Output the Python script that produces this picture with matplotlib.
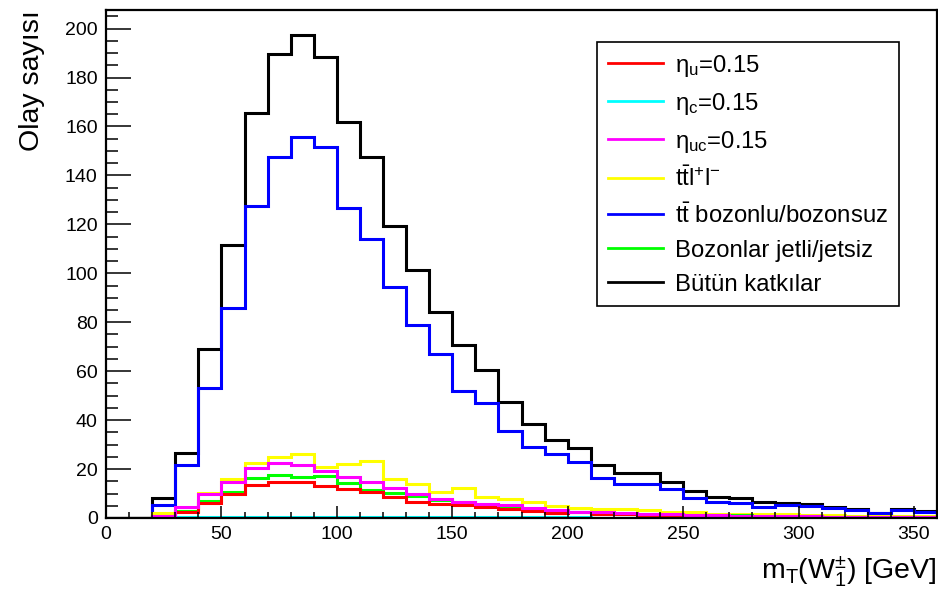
import numpy as np
import matplotlib
matplotlib.use("Agg")
import matplotlib.pyplot as plt
from matplotlib.lines import Line2D
from matplotlib.ticker import MultipleLocator

plt.rcParams['font.family'] = ['Liberation Sans', 'DejaVu Sans']
plt.rcParams['mathtext.fontset'] = 'custom'
plt.rcParams['mathtext.rm'] = 'Liberation Sans'
plt.rcParams['mathtext.it'] = 'Liberation Sans'
plt.rcParams['mathtext.bf'] = 'Liberation Sans:bold'

# transverse mass bins, 10 GeV wide
edges = np.arange(0, 370, 10)

butun = [0, 0, 8, 26.5, 69, 111.5, 165.5, 189.5, 197.5, 188.5, 162, 147.5,
         119.5, 101.5, 84, 70.5, 60.5, 47.5, 38.5, 32, 28.5, 21.5, 18.5, 18.5,
         14.8, 11, 8.5, 8.2, 6.5, 6.3, 5.8, 4.6, 3.5, 2.2, 3.8, 2.8]
ttbar = [0, 0, 5.3, 21.5, 53, 86, 127.3, 147.5, 155.5, 151.5, 126.5, 114,
         94.5, 79, 67, 52, 47, 35.5, 29, 26, 23, 16.5, 13.7, 14,
         12, 8, 6.6, 6.2, 4.3, 5.2, 4.8, 4, 3.3, 1.9, 3.3, 2.3]
ttll = [0, 0, 1.9, 3, 10.3, 15.8, 22.3, 25, 26.1, 21, 22, 23.3,
        15.8, 13.9, 10.5, 12.1, 8.4, 7.8, 6.7, 4.9, 4.1, 3.5, 3.5, 3.3,
        2.6, 2.3, 1.6, 1.5, 1.8, 1.6, 1.3, 1.1, 1.0, 0.8, 0.9, 0.7]
bozon = [0, 0, 0.5, 2.8, 6.9, 10.7, 16.5, 17.6, 16.6, 17.1, 14.1, 11.4,
         10.1, 9, 7.3, 6.5, 5.2, 4.6, 3.6, 3, 2.5, 2.1, 1.8, 1.6,
         1.4, 1.3, 1.2, 1.1, 0.9, 0.8, 0.7, 0.6, 0.6, 0.5, 0.5, 0.4]
eta_u = [0, 0, 0.3, 2.6, 6, 10, 13.5, 14.6, 14.8, 13.1, 11.7, 10.7,
         8.4, 6.7, 5.7, 5.3, 4.5, 3.5, 3, 2.2, 2.4, 1.6, 1.6, 1.3,
         1.1, 0.9, 0.8, 0.7, 0.6, 0.5, 0.5, 0.4, 0.4, 0.3, 0.3, 0.3]
eta_c = [0, 0, 0.2, 0.3, 0.4, 0.4, 0.4, 0.4, 0.4, 0.4, 0.4, 0.4,
         0.4, 0.3, 0.3, 0.3, 0.3, 0.3, 0.3, 0.3, 0.3, 0.2, 0.2, 0.2,
         0.2, 0.2, 0.2, 0.2, 0.2, 0.2, 0.2, 0.2, 0.2, 0.2, 0.2, 0.2]
eta_uc = [0, 0, 0.8, 4.4, 9.7, 14.8, 20.3, 22.3, 21.6, 19.3, 16.9, 14.6,
          12.1, 9.8, 7.6, 6.7, 5.8, 5.2, 4, 3.3, 2.6, 2.3, 2.1, 1.8,
          1.6, 1.3, 1.1, 1.0, 0.9, 0.8, 0.7, 0.6, 0.6, 0.5, 0.5, 0.4]

fig = plt.figure(figsize=(9.38, 5.94), dpi=100)
ax = fig.add_axes([106/938, 1 - 518/594, (937 - 106)/938, (518 - 10)/594])

lw = 2.2
# drawing order: total first, the small signals last
ax.stairs(butun, edges, color='black', lw=lw)
ax.stairs(ttbar, edges, color='blue', lw=lw)
ax.stairs(ttll, edges, color='yellow', lw=lw)
ax.stairs(bozon, edges, color='lime', lw=lw)
ax.stairs(eta_u, edges, color='red', lw=lw)
ax.stairs(eta_c, edges, color='cyan', lw=lw)
ax.stairs(eta_uc, edges, color='magenta', lw=lw)

ax.set_xlim(0, 360)
ax.set_ylim(0, 207.6)

ax.xaxis.set_major_locator(MultipleLocator(50))
ax.xaxis.set_minor_locator(MultipleLocator(10))
ax.yaxis.set_major_locator(MultipleLocator(20))
ax.yaxis.set_minor_locator(MultipleLocator(5))
ax.tick_params(which='both', direction='in', top=False, right=False,
               labelsize=14, width=1.1)
ax.tick_params(axis='y', which='major', length=18, pad=6)
ax.tick_params(axis='y', which='minor', length=8.6)
ax.tick_params(axis='x', which='major', length=8.6, pad=6)
ax.tick_params(axis='x', which='minor', length=4.3)
for sp in ax.spines.values():
    sp.set_linewidth(1.6)

ax.set_xlabel(r'm$_{\mathrm{T}}$($\mathrm{W}^{\pm}_{1}$) [GeV]', loc='right',
              fontsize=20.5, labelpad=8)
ax.set_ylabel('Olay sayısı', loc='top', fontsize=20.5, labelpad=14)

handles = [Line2D([], [], color=c, lw=2) for c in
           ['red', 'cyan', 'magenta', 'yellow', 'blue', 'lime', 'black']]
labels = [r'η$_{\mathrm{u}}$=0.15',
          r'η$_{\mathrm{c}}$=0.15',
          r'η$_{\mathrm{uc}}$=0.15',
          r't$\bar{\mathrm{t}}$l$^{+}$l$^{-}$',
          r't$\bar{\mathrm{t}}$ bozonlu/bozonsuz',
          'Bozonlar jetli/jetsiz',
          'Bütün katkılar']
leg = ax.legend(handles, labels, loc='upper left',
                bbox_to_anchor=((597 - 106)/831, (518 - 42)/508),
                fontsize=17.2, frameon=True, fancybox=False, edgecolor='black',
                framealpha=1, borderpad=0.45, borderaxespad=0,
                handlelength=2.3, handletextpad=0.5, labelspacing=0.5)
leg.get_frame().set_linewidth(1.2)

fig.savefig('out.png', dpi=100)
